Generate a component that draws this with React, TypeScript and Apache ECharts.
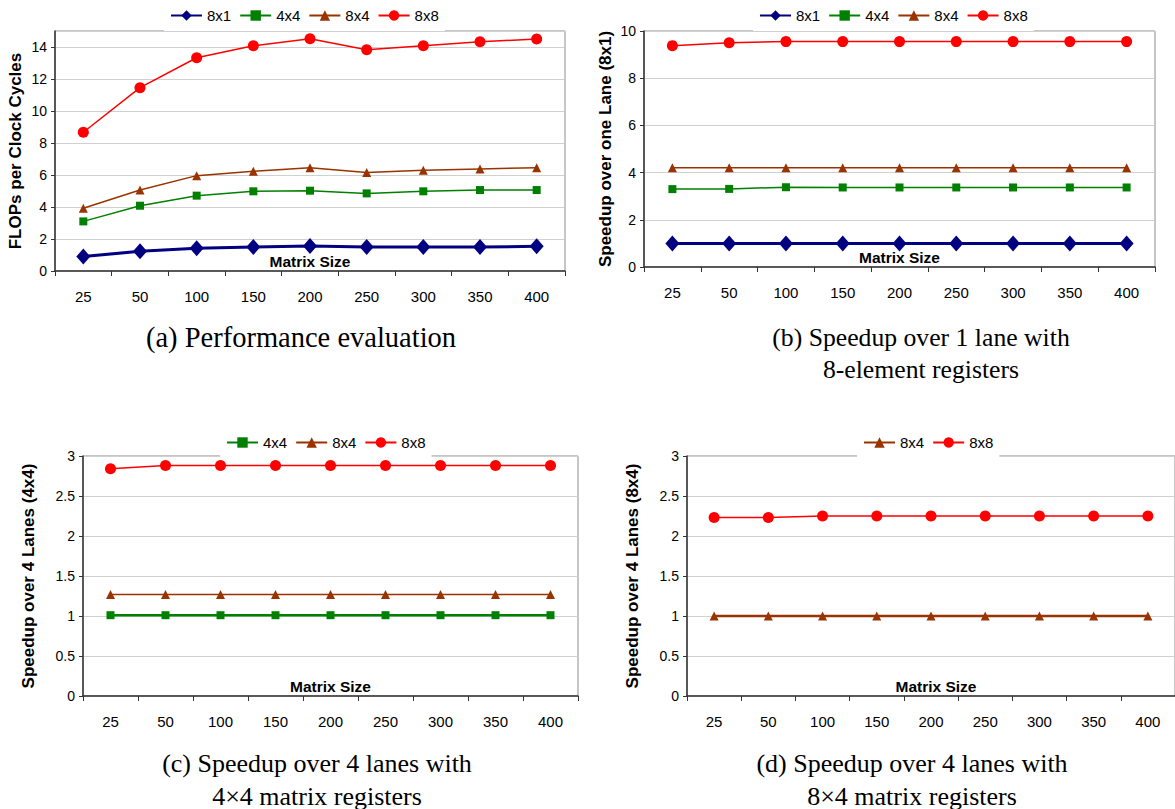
import React, { useEffect, useRef } from "react";
import * as echarts from "echarts";

const categories = ["25", "50", "100", "150", "200", "250", "300", "350", "400"];

// (a) Performance evaluation (FLOPs per clock cycle)
const perf8x1 = [0.9, 1.23, 1.42, 1.5, 1.56, 1.5, 1.5, 1.5, 1.54];
const perf4x4 = [3.1, 4.08, 4.71, 4.98, 5.02, 4.85, 4.98, 5.06, 5.06];
const perf8x4 = [3.92, 5.06, 5.96, 6.23, 6.46, 6.15, 6.29, 6.38, 6.46];
const perf8x8 = [8.67, 11.46, 13.33, 14.08, 14.52, 13.83, 14.08, 14.33, 14.5];

// (b) Speedup over one lane (8x1)
const sp1_8x1 = [1, 1, 1, 1, 1, 1, 1, 1, 1];
const sp1_4x4 = [3.3, 3.31, 3.38, 3.37, 3.37, 3.37, 3.37, 3.37, 3.37];
const sp1_8x4 = [4.21, 4.21, 4.21, 4.21, 4.21, 4.21, 4.21, 4.21, 4.21];
const sp1_8x8 = [9.38, 9.5, 9.55, 9.55, 9.55, 9.55, 9.55, 9.55, 9.55];

// (c) Speedup over 4 lanes (4x4)
const sp44_4x4 = [1.01, 1.01, 1.01, 1.01, 1.01, 1.01, 1.01, 1.01, 1.01];
const sp44_8x4 = [1.27, 1.27, 1.27, 1.27, 1.27, 1.27, 1.27, 1.27, 1.27];
const sp44_8x8 = [2.84, 2.88, 2.88, 2.88, 2.88, 2.88, 2.88, 2.88, 2.88];

// (d) Speedup over 4 lanes (8x4)
const sp84_8x4 = [1, 1, 1, 1, 1, 1, 1, 1, 1];
const sp84_8x8 = [2.23, 2.23, 2.25, 2.25, 2.25, 2.25, 2.25, 2.25, 2.25];

const xTitle = "Matrix Size";
const yTitles = [
  "FLOPs per Clock Cycles",
  "Speedup over one Lane (8x1)",
  "Speedup over 4 Lanes (4x4)",
  "Speedup over 4 Lanes (8x4)",
];
const captions = [
  ["(a) Performance evaluation"],
  ["(b) Speedup over 1 lane with", "8-element registers"],
  ["(c) Speedup over 4 lanes with", "4×4 matrix registers"],
  ["(d) Speedup over 4 lanes with", "8×4 matrix registers"],
];

const SANS = '"Liberation Sans", Arial, sans-serif';
const SERIF = '"Liberation Serif", "Times New Roman", serif';

const STYLES: Record<string, { color: string; symbol: string; size: any; width: number }> = {
  "8x1": { color: "#000080", symbol: "diamond", size: [14, 16], width: 3 },
  "4x4": { color: "#008000", symbol: "rect", size: 8, width: 1.5 },
  "8x4": { color: "#993300", symbol: "triangle", size: 9, width: 1.5 },
  "8x8": { color: "#FF0000", symbol: "circle", size: 11, width: 1.5 },
};

const grids = [
  { left: 55, top: 31, width: 510, height: 240 },
  { left: 644, top: 31, width: 511, height: 236 },
  { left: 83, top: 456, width: 495, height: 240 },
  { left: 687, top: 456, width: 498, height: 240 },
];

const yRanges = [
  { max: 15, interval: 2, showMax: false, nameGap: 31 },
  { max: 10, interval: 2, showMax: true, nameGap: 30 },
  { max: 3, interval: 0.5, showMax: true, nameGap: 46 },
  { max: 3, interval: 0.5, showMax: true, nameGap: 46 },
];

const panelSeries: { name: string; data: number[]; thick?: boolean }[][] = [
  [
    { name: "8x1", data: perf8x1 },
    { name: "4x4", data: perf4x4 },
    { name: "8x4", data: perf8x4 },
    { name: "8x8", data: perf8x8 },
  ],
  [
    { name: "8x1", data: sp1_8x1 },
    { name: "4x4", data: sp1_4x4 },
    { name: "8x4", data: sp1_8x4 },
    { name: "8x8", data: sp1_8x8 },
  ],
  [
    { name: "4x4", data: sp44_4x4, thick: true },
    { name: "8x4", data: sp44_8x4 },
    { name: "8x8", data: sp44_8x8 },
  ],
  [
    { name: "8x4", data: sp84_8x4, thick: true },
    { name: "8x8", data: sp84_8x8 },
  ],
];

const legendPos = [
  { left: 164, top: 4 },
  { left: 753, top: 4 },
  { left: 220, top: 431 },
  { left: 857, top: 431 },
];

const captionX = [301, 921, 317, 912];
const captionSize = [28.5, 25.7, 26, 26];
const captionY = [[337], [337, 369], [763, 796], [763, 796]];

export default function App() {
  const ref = useRef<HTMLDivElement>(null);
  useEffect(() => {
    if (!ref.current) return;
    const chart = echarts.init(ref.current, undefined, { renderer: "svg" });

    const series: any[] = [];
    panelSeries.forEach((list, pi) => {
      list.forEach((s) => {
        const st = STYLES[s.name];
        series.push({
          type: "line",
          name: `${pi}:${s.name}`,
          xAxisIndex: pi,
          yAxisIndex: pi,
          data: s.data,
          symbol: st.symbol,
          symbolSize: st.size,
          showAllSymbol: true,
          lineStyle: { color: st.color, width: s.thick ? 2.5 : st.width },
          itemStyle: { color: st.color },
          emphasis: { disabled: true },
        });
      });
    });

    const graphics: any[] = [];
    captions.forEach((lines, pi) =>
      lines.forEach((t, li) =>
        graphics.push({
          type: "text",
          x: captionX[pi],
          y: captionY[pi][li],
          silent: true,
          style: {
            text: t,
            fill: "#000",
            font: `${captionSize[pi]}px ${SERIF}`,
            textAlign: "center",
            textVerticalAlign: "middle",
          },
        })
      )
    );
    grids.forEach((g) =>
      graphics.push({
        type: "text",
        x: g.left + g.width / 2,
        y: g.top + g.height - 10,
        silent: true,
        z: 10,
        style: {
          text: xTitle,
          fill: "#000",
          font: `bold 15.5px ${SANS}`,
          textAlign: "center",
          textVerticalAlign: "middle",
        },
      })
    );

    const option: any = {
      animation: false,
      backgroundColor: "#fff",
      grid: grids.map((g) => ({
        ...g,
        show: true,
        borderColor: "#8c8c8c",
        borderWidth: 1,
        backgroundColor: "#fff",
        containLabel: false,
      })),
      legend: panelSeries.map((list, pi) => ({
        data: list.map((s) => `${pi}:${s.name}`),
        formatter: (n: string) => n.split(":")[1],
        left: legendPos[pi].left,
        top: legendPos[pi].top,
        padding: [4, 6, 8, 6],
        itemWidth: 31,
        itemHeight: 13,
        itemGap: 8,
        backgroundColor: "#fff",
        selectedMode: false,
        textStyle: { fontFamily: SANS, fontSize: 15, color: "#000" },
      })),
      xAxis: grids.map((_, pi) => ({
        type: "category",
        gridIndex: pi,
        data: categories,
        boundaryGap: true,
        axisLine: { lineStyle: { color: "#333", width: 1.5 } },
        axisTick: { show: true, length: 5, lineStyle: { color: "#333" } },
        axisLabel: { fontFamily: SANS, fontSize: 15, color: "#000", margin: 18 },
        splitLine: { show: false },
      })),
      yAxis: grids.map((_, pi) => ({
        type: "value",
        gridIndex: pi,
        min: 0,
        max: yRanges[pi].max,
        interval: yRanges[pi].interval,
        name: yTitles[pi],
        nameLocation: "middle",
        nameRotate: 90,
        nameGap: yRanges[pi].nameGap,
        nameMoveOverlap: false,
        nameTextStyle: { fontFamily: SANS, fontSize: 17, fontWeight: "bold", color: "#000" },
        axisLine: { show: true, lineStyle: { color: "#333", width: 1.5 } },
        axisTick: { show: true, length: 4, lineStyle: { color: "#333" } },
        axisLabel: {
          fontFamily: SANS,
          fontSize: 14,
          color: "#000",
          margin: 8,
          showMaxLabel: yRanges[pi].showMax,
        },
        splitLine: { show: true, lineStyle: { color: "#d0d0d0", width: 1 } },
      })),
      series,
      graphic: graphics,
    };
    chart.setOption(option);
    return () => chart.dispose();
  }, []);
  return (
    <div
      ref={ref}
      style={{ position: "fixed", left: 0, top: 0, width: 1175, height: 809, background: "#fff" }}
    />
  );
}
